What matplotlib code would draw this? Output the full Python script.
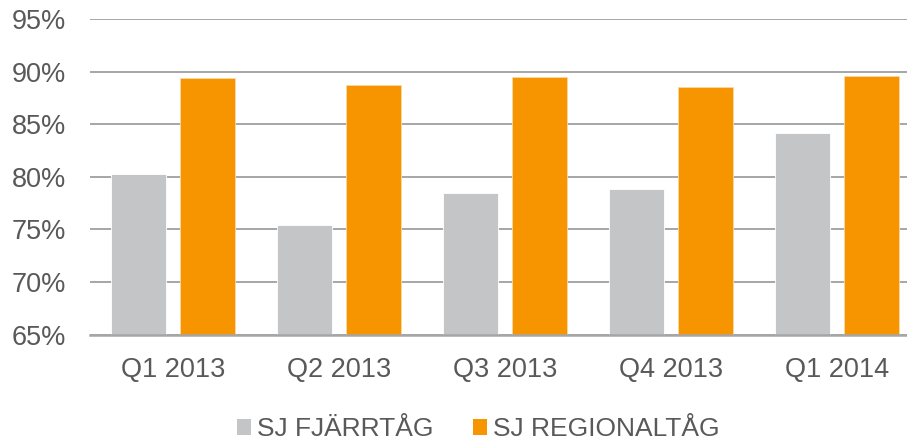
import matplotlib
matplotlib.use("Agg")
import matplotlib.pyplot as plt
import numpy as np
from matplotlib.patches import Patch

categories = ["Q1 2013", "Q2 2013", "Q3 2013", "Q4 2013", "Q1 2014"]
fjarrtag = [80.3, 75.4, 78.5, 78.8, 84.2]
regionaltag = [89.4, 88.7, 89.5, 88.5, 89.6]
series_names = ["SJ FJÄRRTÅG", "SJ REGIONALTÅG"]
yticks = [65, 70, 75, 80, 85, 90, 95]

GREY = "#C4C5C7"
ORANGE = "#F79500"
TEXT = "#595959"
GRID = "#A6A6A6"

plt.rcParams["font.family"] = ["Liberation Sans", "DejaVu Sans"]

fig = plt.figure(figsize=(9.07, 4.41), dpi=100)
ax = fig.add_axes([90/907, 1 - 334.7/441, (920 - 90)/907, (334.7 - 19)/441])

x = np.arange(len(categories))
w = 0.33
off = 0.208
ax.bar(x - off, fjarrtag, width=w, color=GREY, edgecolor="white", linewidth=0.6, zorder=3, bottom=0)
ax.bar(x + off, regionaltag, width=w, color=ORANGE, edgecolor="#FBD9A6", linewidth=0.6, zorder=3, bottom=0)

ax.set_ylim(65, 95)
ax.set_xlim(-0.5, 4.5)
ax.set_yticks(yticks)
ax.set_yticklabels([f"{v}%" for v in yticks])
ax.set_xticks(x)
ax.set_xticklabels(categories)

ax.grid(axis="y", color=GRID, linewidth=1.4, zorder=0)
ax.set_axisbelow(True)
for s in ["top", "right", "left"]:
    ax.spines[s].set_visible(False)
ax.spines["bottom"].set_color(GRID)
ax.spines["bottom"].set_linewidth(1.8)
ax.spines["bottom"].set_zorder(4)

ax.tick_params(axis="both", length=0, labelsize=19.5, colors=TEXT)
ax.tick_params(axis="y", pad=17)
ax.tick_params(axis="x", pad=16)

handles = [Patch(facecolor=GREY, label=series_names[0]),
           Patch(facecolor=ORANGE, label=series_names[1])]
leg = fig.legend(handles=handles, loc="center", ncol=2,
                 bbox_to_anchor=(478/907, 1 - 429/441),
                 frameon=False, fontsize=19, labelcolor=TEXT,
                 handlelength=0.55, handleheight=0.55, handletextpad=0.2,
                 columnspacing=1.5, borderpad=0, borderaxespad=0)

fig.savefig("out.png", dpi=100)
